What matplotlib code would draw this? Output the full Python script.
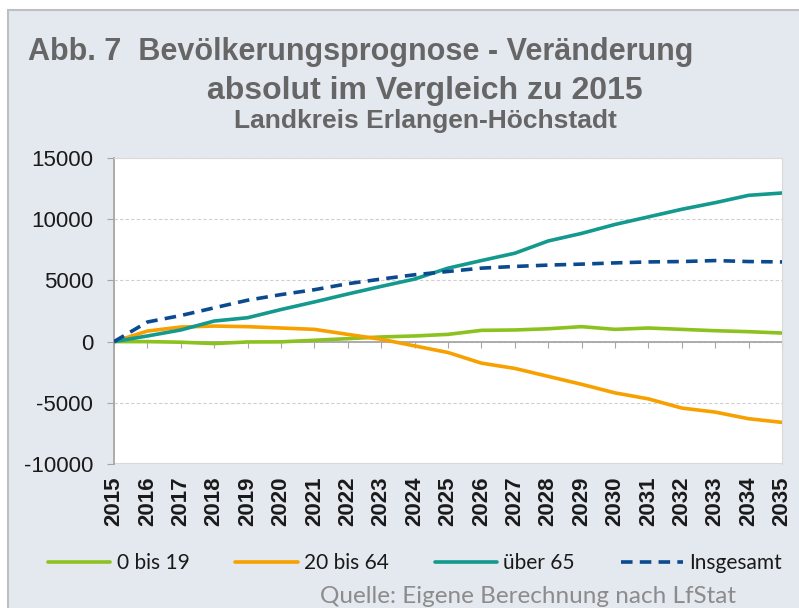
import numpy as np
import matplotlib
matplotlib.use('Agg')
import matplotlib.pyplot as plt
from matplotlib.patches import Rectangle

plt.rcParams['axes.unicode_minus'] = False

years = list(range(2015, 2036))
jung = [0, 0, -50, -160, -30, -20, 110, 240, 380, 460, 590, 920, 950, 1050, 1220,
        1000, 1110, 1000, 890, 810, 700]
mitte = [0, 860, 1190, 1270, 1220, 1110, 1000, 590, 190, -350, -890, -1760, -2190,
         -2840, -3490, -4190, -4680, -5430, -5760, -6300, -6600]
alt = [0, 460, 950, 1680, 1950, 2620, 3240, 3890, 4510, 5110, 6000, 6620, 7220,
       8220, 8840, 9570, 10190, 10810, 11350, 11950, 12140]
gesamt = [0, 1600, 2130, 2760, 3380, 3840, 4240, 4730, 5110, 5460, 5730, 6000, 6140,
          6250, 6330, 6430, 6510, 6540, 6620, 6540, 6510]
yticks = [-10000, -5000, 0, 5000, 10000, 15000]
labels = ['0 bis 19', '20 bis 64', 'über 65', 'Insgesamt']
colors = ['#8cc21f', '#f7a000', '#13998e', '#0b4a8e']

W, H = 799, 608
fig = plt.figure(figsize=(W / 100, H / 100), dpi=100, facecolor='white')

# grauer Rahmen
bg = Rectangle((8 / W, -0.05), 1.1, 1 - 10 / H + 0.05, transform=fig.transFigure,
               facecolor='#e4e8ef', edgecolor='#bfbfbf', lw=1.5, zorder=-10)
fig.patches.append(bg)

# Titel
fig.text(28 / W, 1 - 60 / H, 'Abb. 7  Bevölkerungsprognose - Veränderung',
         fontsize=22, fontweight='bold', color='#666666', family='Liberation Sans',
         ha='left', va='baseline')
fig.text(425 / W, 1 - 99 / H, 'absolut im Vergleich zu 2015',
         fontsize=23, fontweight='bold', color='#666666', family='Liberation Sans',
         ha='center', va='baseline')
fig.text(425 / W, 1 - 128 / H, 'Landkreis Erlangen-Höchstadt',
         fontsize=19, fontweight='bold', color='#666666', family='Liberation Sans',
         ha='center', va='baseline')

ax = fig.add_axes([114 / W, 1 - 464 / H, (782 - 114) / W, (464 - 158) / H])
ax.set_facecolor('white')

x = np.arange(len(years))
series = [jung, mitte, alt, gesamt]
for s, lab, c in zip(series, labels, colors):
    ls = (0, (3.2, 2.0)) if lab == 'Insgesamt' else '-'
    ax.plot(x, s, color=c, lw=2.6, ls=ls, label=lab, solid_capstyle='round', zorder=3)

ax.set_xlim(0, len(years) - 1)
ax.set_ylim(-10000, 15000)
ax.set_yticks(yticks)
ax.set_yticklabels([str(v) for v in yticks], fontsize=16, family='Liberation Sans',
                   color='#1a1a1a')
ax.grid(axis='y', color='#d0d0d0', ls=(0, (3, 2)), lw=0.8)
ax.set_axisbelow(True)

for side in ['top', 'right']:
    ax.spines[side].set_color('#d9d9d9')
ax.spines['left'].set_color('#a6a6a6')
ax.spines['left'].set_linewidth(1.3)
ax.spines['bottom'].set_position(('data', 0))
ax.spines['bottom'].set_color('#a6a6a6')
ax.spines['bottom'].set_linewidth(1.3)
ax.spines['bottom'].set_zorder(2)

ax.set_xticks(x)
ax.tick_params(axis='x', direction='out', length=4.3, color='#a6a6a6', labelbottom=False)
ax.tick_params(axis='y', direction='out', length=5, color='#a6a6a6', pad=10)

# untere Rahmenlinie der Zeichenfläche
ax.axhline(-10000, color='#d9d9d9', lw=1.5, zorder=1)

sec = ax.secondary_xaxis(0)
sec.set_xticks(x)
sec.set_xticklabels([str(y) for y in years], rotation=90, fontsize=16,
                    fontweight='bold', family='Liberation Sans', color='#1a1a1a')
sec.tick_params(length=0, pad=9)
sec.spines['bottom'].set_visible(False)

leg = fig.legend(loc='center', bbox_to_anchor=(415 / W, 1 - 563 / H), ncol=4,
                 frameon=False, prop={'family': 'Lato', 'size': 15},
                 handlelength=3.0, handletextpad=0.3, columnspacing=2.2)
for t in leg.get_texts():
    t.set_color('#1a1a1a')

fig.text(528 / W, 1 - 603 / H, 'Quelle: Eigene Berechnung nach LfStat',
         fontsize=17.5, color='#8c8c8c', family='Lato', ha='center', va='baseline')

fig.savefig('out.png', dpi=100, facecolor='white')
